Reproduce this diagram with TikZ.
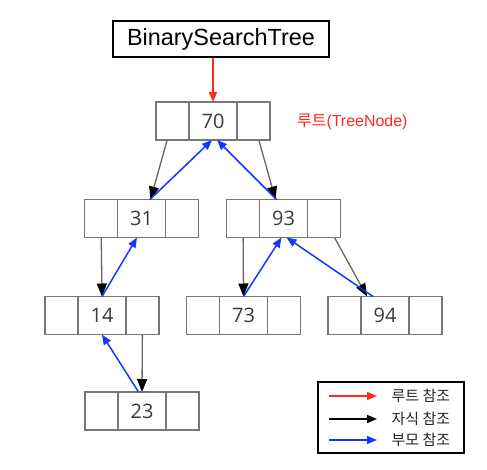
\documentclass[tikz,border=0pt]{standalone}
\usepackage{fontspec}
\setmainfont{Liberation Sans}
\newfontfamily\kr{Noto Sans CJK KR}
\newfontfamily\numfont{Open Sans}
\usetikzlibrary{arrows.meta,backgrounds}
\definecolor{boxgray}{HTML}{777777}
\definecolor{linegray}{HTML}{666666}
\definecolor{numgray}{HTML}{3A3A3A}
\definecolor{myblue}{HTML}{1437FF}
\definecolor{myred}{HTML}{FF2A1F}
\definecolor{legblack}{HTML}{000000}
\tikzset{
  cell/.style={draw=boxgray, line width=1.5bp, fill=white, minimum height=38bp, inner sep=0pt, outer sep=0pt,
    font=\numfont\fontsize{20}{20}\selectfont, text=numgray},
  midcell/.style={cell, minimum width=48bp},
  sidecell/.style={cell, minimum width=33bp},
  childarrow/.style={draw=linegray, line width=1.3bp, -{Triangle[length=13bp,width=10bp,color=black]}},
  legchild/.style={draw=legblack, line width=1.5bp, -{Triangle[length=10bp,width=8bp]}},
  parentarrow/.style={draw=myblue, line width=1.5bp, -{Triangle[length=10bp,width=8bp]}},
  rootarrow/.style={draw=myred, line width=1.5bp, -{Triangle[length=10bp,width=8bp]}},
  legtext/.style={anchor=west, inner sep=0pt, font=\kr\fontsize{15}{15}\selectfont, text=black!85},
}
\newcommand\tnode[4]{%
  \node[midcell] (#1) at (#2,#3) {#4};
  \node[sidecell,anchor=east] (#1l) at (#1.west) {};
  \node[sidecell,anchor=west] (#1r) at (#1.east) {};}
\begin{document}
\begin{tikzpicture}[x=1bp,y=-1bp]
\useasboundingbox (0,0) rectangle (487,470);

\node[draw=black, line width=2bp, minimum width=216bp, minimum height=36bp, inner sep=0pt,
  font=\fontsize{23.5}{23.5}\selectfont] (bst) at (221,39) {BinarySearchTree};

\tnode{n70}{213}{121}{70}
\tnode{n31}{141.5}{218.5}{31}
\tnode{n93}{283.5}{218.5}{93}
\tnode{n14}{102}{315.5}{14}
\tnode{n73}{243.5}{315.5}{73}
\tnode{n94}{385}{315.5}{94}
\tnode{n23}{142}{411}{23}

\node[anchor=west, inner sep=0pt, text=myred, font=\fontsize{16}{16}\selectfont] (lbl) at (297,122) {{\kr 루트}(TreeNode)};

\begin{pgfonlayer}{background}
\fill[white] (0,0) rectangle (487,470);
\draw[childarrow] (n70l.center) -- ([xshift=9bp]n31.north);
\draw[childarrow] (n70r.center) -- ([xshift=-8bp]n93.north);
\draw[childarrow] (n31l.center) -- (n14.north);
\draw[childarrow] (n14r.center) -- (n23.north);
\draw[childarrow] (n93l.center) -- (n73.north);
\draw[childarrow] (n93r.center) -- ([xshift=-18bp]n94.north);
\end{pgfonlayer}

\draw[rootarrow] (bst.south -| n70.north) -- (n70.north);

\draw[parentarrow] ([xshift=8.5bp]n31.north) -- ([xshift=-1bp]n70.south);
\draw[parentarrow] ([xshift=-7bp]n93.north) -- ([xshift=4bp]n70.south);
\draw[parentarrow] (n14.north) -- ([xshift=-4.5bp]n31.south);
\draw[parentarrow] ([xshift=-3.5bp]n23.north) -- (n14.south);
\draw[parentarrow] (n73.north) -- ([xshift=-2bp]n93.south);
\draw[parentarrow] ([xshift=-12bp]n94.north) -- ([xshift=3bp]n93.south);

% legend
\node[draw=black, line width=2bp, minimum width=146bp, minimum height=71bp, inner sep=0pt] (legend) at (391,417.4) {};
\node[legtext] (lt1) at (391.5,396) {루트 참조};
\node[legtext] (lt2) at (391.5,419) {자식 참조};
\node[legtext] (lt3) at (391.5,440) {부모 참조};
\coordinate (ls1) at (329,396);
\coordinate (ls2) at (329,419);
\coordinate (ls3) at (329,440);
\coordinate (le1) at (377,396);
\coordinate (le2) at (377,419);
\coordinate (le3) at (377,440);
\draw[rootarrow] (ls1) -- (le1);
\draw[legchild] (ls2) -- (le2);
\draw[parentarrow] (ls3) -- (le3);
\end{tikzpicture}
\end{document}
